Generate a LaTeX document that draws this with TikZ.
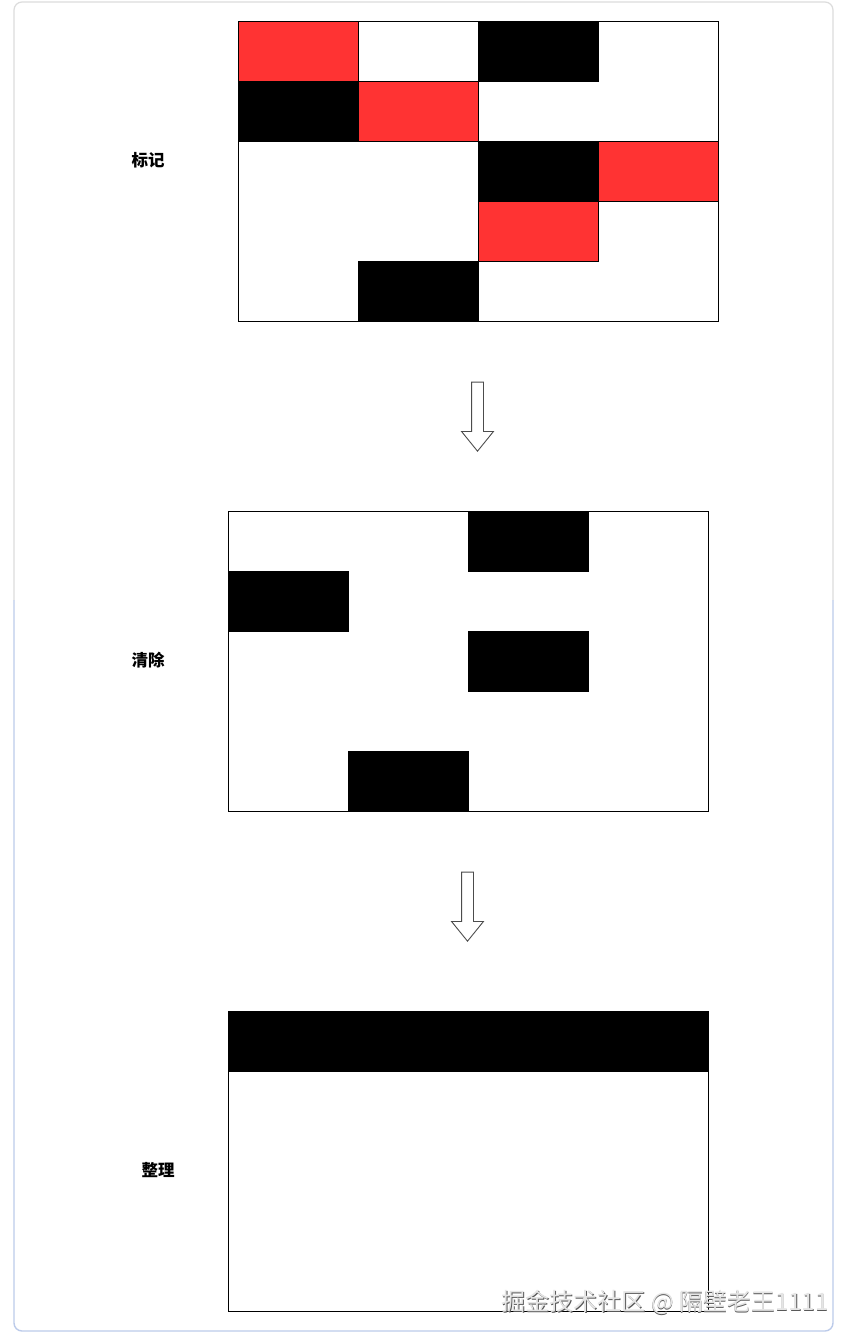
\documentclass[tikz,border=0pt]{standalone}
\usepackage{fontspec}
\newfontfamily\cjk{Noto Sans CJK SC}
\usetikzlibrary{shapes.arrows}
\definecolor{markred}{HTML}{FF3333}
\definecolor{framegrey}{HTML}{DCDCDC}
\definecolor{frameblue}{HTML}{BCCBEA}

\begin{document}
\begin{tikzpicture}[x=1pt,y=-1pt, thin, every node/.style={inner sep=0pt},
  board/.style={draw=black, minimum width=480pt, minimum height=300pt},
  cell/.style={draw=black, fill=#1, minimum width=120pt, minimum height=60pt, anchor=north west},
  phase/.style={font=\cjk\bfseries\fontsize{16.5}{16.5}\selectfont},
  down/.style={draw=black!70, line width=0.9pt, fill=white, single arrow, rotate=-90, minimum height=69pt, inner sep=5.5pt, single arrow head extend=10pt, single arrow tip angle=78}]
\useasboundingbox (0,0) rectangle (858,1344);
\fill[white] (0,0) rectangle (858,1344);
% card frame
\draw[framegrey, line width=1.2pt, rounded corners=8pt] (833,600) -- (833,2) -- (14,2) -- (14,600);
\draw[frameblue, line width=1.4pt, rounded corners=8pt] (14,600) -- (14,1331) -- (833,1331) -- (833,600);

% mark
\node[board] (mark) at (478,171) {};
\foreach \c/\r/\col in {0/0/markred, 2/0/black, 0/1/black, 1/1/markred, 2/2/black, 3/2/markred, 2/3/markred, 1/4/black}
  \node[cell=\col] (m\c\r) at (238+120*\c, 21+60*\r) {};
\node[phase] (lmark) at (148,160) {标记};

% sweep
\node[board] (sweep) at (468,661) {};
\foreach \c/\r in {2/0, 0/1, 2/2, 1/4}
  \node[cell=black] (s\c\r) at (228+120*\c, 511+60*\r) {};
\node[phase] (lsweep) at (148,660) {清除};

% compact
\node[board] (compact) at (468,1161) {};
\node[cell=black, minimum width=480pt] (c00) at (228,1011) {};
\node[phase] (lcompact) at (158,1170) {整理};

\node[down] (a1) at (477.5,413) {};
\node[down] (a2) at (467.5,903) {};

% watermark
\node[font=\cjk\fontsize{24}{24}\selectfont, text=black!65] (wm) at (665.9,1302.9) {掘金技术社区 @ 隔壁老王1111};
\node[font=\cjk\fontsize{24}{24}\selectfont, text=black!10] at (665,1302) {掘金技术社区 @ 隔壁老王1111};
\end{tikzpicture}
\end{document}
